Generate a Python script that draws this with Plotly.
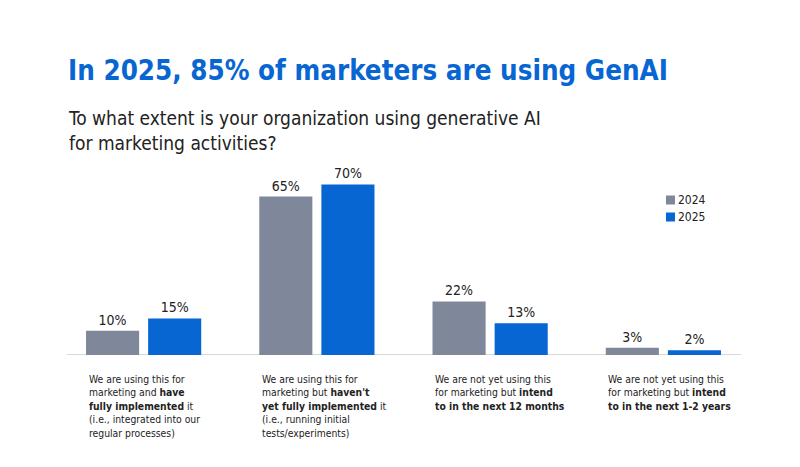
import plotly.graph_objects as go

categories = ["c1", "c2", "c3", "c4"]
cat_labels = [
    "We are using this for<br>marketing and <b>have</b><br><b>fully implemented</b> it<br>(i.e., integrated into our<br>regular processes)",
    "We are using this for<br>marketing but <b>haven't</b><br><b>yet fully implemented</b> it<br>(i.e., running initial<br>tests/experiments)",
    "We are not yet using this<br>for marketing but <b>intend</b><br><b>to in the next 12 months</b>",
    "We are not yet using this<br>for marketing but <b>intend</b><br><b>to in the next 1-2 years</b>",
]
series_names = ["2024", "2025"]
vals_2024 = [10, 65, 22, 3]
vals_2025 = [15, 70, 13, 2]

FONT = "DejaVu Sans Condensed, Roboto, sans-serif"
GRAY = "#7F889A"
BLUE = "#0866D2"
COLORS = [GRAY, BLUE]

W, H = 800, 467
L, R, T, B = 57, 50, 160, 112
PW, PH = W - L - R, H - T - B


def px(x):
    return (x - L) / PW


def py(y):
    return (H - B - y) / PH


fig = go.Figure()
for name, vals, col in zip(series_names, [vals_2024, vals_2025], COLORS):
    fig.add_trace(go.Bar(
        x=categories, y=vals, name=name, marker=dict(color=col, line=dict(width=0)),
        text=[f"{v}%" for v in vals], textposition="outside", cliponaxis=False,
        textfont=dict(family=FONT, size=14, color="#222222"),
    ))

fig.update_layout(
    width=W, height=H,
    margin=dict(l=L, r=R, t=T, b=B),
    paper_bgcolor="white", plot_bgcolor="white",
    barmode="group", bargap=0.283, bargroupgap=0.145,
    font=dict(family=FONT, color="#222222"),
    showlegend=False,
    xaxis=dict(showticklabels=False, showgrid=False, zeroline=False, showline=False, ticks=""),
    yaxis=dict(range=[0, 80], visible=False),
)

# baseline
fig.add_shape(type="line", xref="paper", yref="y", x0=px(67), x1=px(741),
              y0=0, y1=0, line=dict(color="#D9D9D9", width=2), layer="below")

# custom legend
for i, (name, col) in enumerate(zip(series_names, COLORS)):
    yc = 200 + 17 * i
    fig.add_shape(type="rect", xref="paper", yref="paper", x0=px(666), x1=px(675),
                  y0=py(yc + 4.5), y1=py(yc - 4.5), fillcolor=col, line=dict(width=0))
    fig.add_annotation(text=name, xref="paper", yref="paper", x=px(676), y=py(yc),
                       xanchor="left", yanchor="middle", showarrow=False,
                       font=dict(family=FONT, size=12, color="#222222"))

fig.add_annotation(text="<b>In 2025, 85% of marketers are using GenAI</b>", xref="paper", yref="paper",
                   x=px(66), y=py(70), xanchor="left", yanchor="middle",
                   showarrow=False, font=dict(family=FONT, size=27.5, color=BLUE))
fig.add_annotation(text="To what extent is your organization using generative AI<br>for marketing activities?",
                   xref="paper", yref="paper", x=px(66), y=py(105),
                   xanchor="left", yanchor="top", align="left", showarrow=False,
                   font=dict(family=FONT, size=19, color="#222222"))

for i, lab in enumerate(cat_labels):
    fig.add_annotation(text=lab, x=i, xref="x", xshift=-57, yref="paper", y=py(371),
                       xanchor="left", yanchor="top", align="left", showarrow=False,
                       font=dict(family=FONT, size=10.3, color="#222222"))

fig.write_html("out.html")
